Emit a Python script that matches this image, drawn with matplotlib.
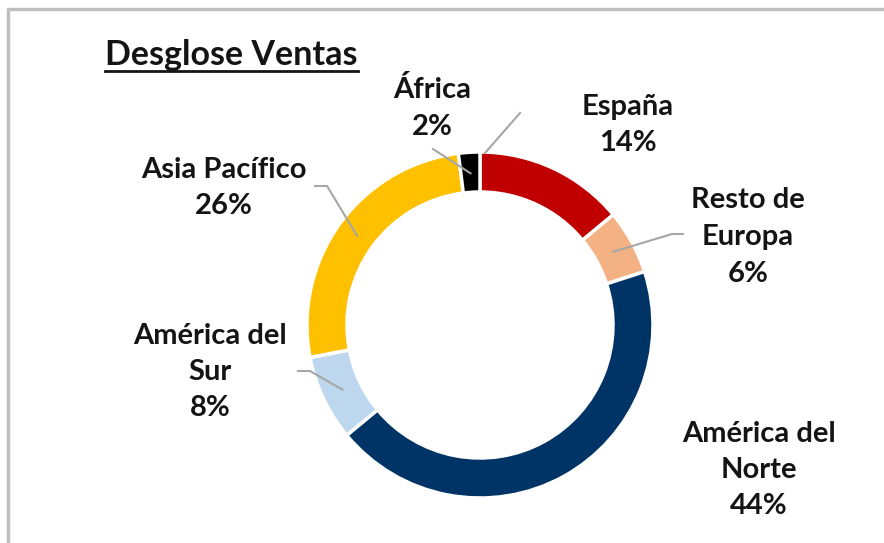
import numpy as np
import matplotlib.pyplot as plt

# Sales breakdown donut (Desglose Ventas)
regions = ["España", "Resto de\nEuropa", "América del\nNorte", "América del\nSur", "Asia Pacífico", "África"]
shares = [14, 6, 44, 8, 26, 2]
colors = ["#C00000", "#F4B183", "#003366", "#BDD7EE", "#FFC000", "#000000"]

W, H = 884, 543
CX, CY = 480, 325
R_OUT, R_IN = 173, 133

# label centres (pixel coords from top-left) and leader line elbows
label_pos = [(628, 125), (748, 237), (759, 470), (210, 372), (224, 188), (432, 108)]
elbows = [None, [(683, 234), (672, 234)], None, [(298, 371), (310, 371)],
          [(315, 186), (327, 186)], [(433, 149)]]

plt.rcParams['font.family'] = ['Lato', 'DejaVu Sans']

fig = plt.figure(figsize=(W / 100, H / 100), dpi=100)
ax = fig.add_axes([0, 0, 1, 1])
ax.set_xlim(0, W)
ax.set_ylim(0, H)
ax.set_aspect('equal')
ax.axis('off')


def fy(y):
    return H - y


wedges, _ = ax.pie(shares, colors=colors, startangle=90, counterclock=False,
                   radius=R_OUT, center=(CX, fy(CY)),
                   wedgeprops=dict(width=R_OUT - R_IN, edgecolor="white", linewidth=2.5))
ax.set_xlim(0, W)
ax.set_ylim(0, H)

total = sum(shares)
cum = np.cumsum([0] + shares[:-1])
for i, (name, val) in enumerate(zip(regions, shares)):
    lx, ly = label_pos[i]
    ax.text(lx, fy(ly), f"{name}\n{val/total:.0%}", ha="center", va="center",
            fontsize=21, fontweight="bold", color="#141414", linespacing=1.5)
    if elbows[i]:
        mid = np.deg2rad(90 - (cum[i] + val / 2) / total * 360)
        pts = elbows[i] + [(CX + 152 * np.cos(mid), CY - 152 * np.sin(mid))]
        ax.plot([p[0] for p in pts], [fy(p[1]) for p in pts], color="#A6A6A6", lw=1.5)

# España leader
ax.plot([520, 485], [fy(113), fy(153)], color="#A6A6A6", lw=1.5)

# title with underline
t = ax.text(105, fy(55), "Desglose Ventas", ha="left", va="center",
            fontsize=24.5, fontweight="bold", color="#141414")
fig.canvas.draw()
bb = t.get_window_extent()
ax.plot([bb.x0, bb.x1], [fy(71), fy(71)], color="#141414", lw=2)

# chart area border (top and left visible)
ax.plot([8, 8, W], [0, fy(9), fy(9)], color="#BFBFBF", lw=2.5)

fig.savefig("out.png", dpi=100)
